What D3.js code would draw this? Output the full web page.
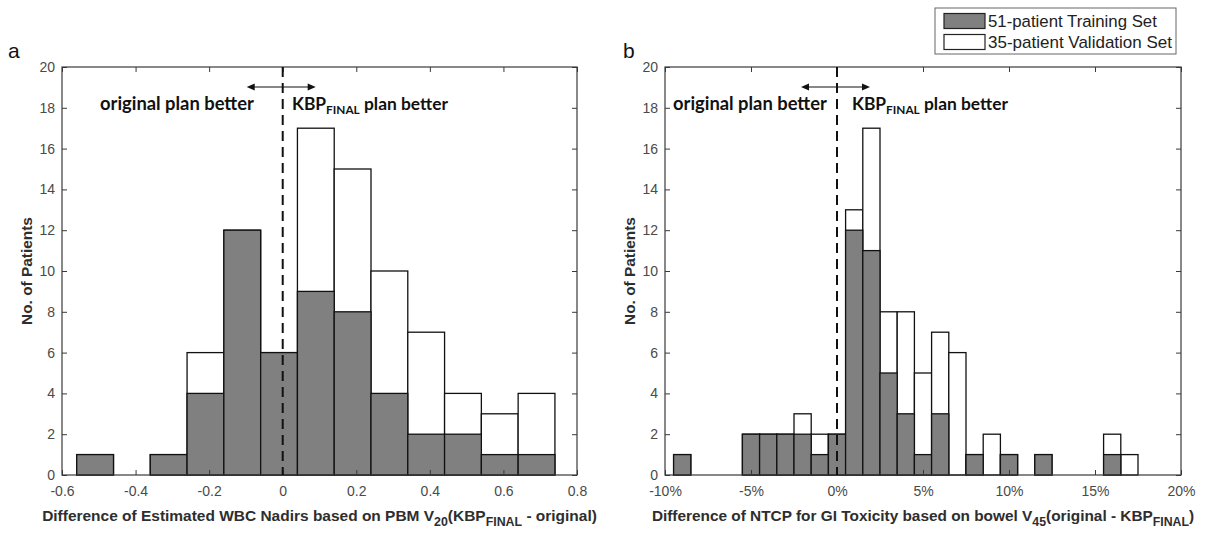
<!DOCTYPE html>
<html>
<head>
<meta charset="utf-8">
<script src="https://cdn.jsdelivr.net/npm/d3@7"></script>
<style>
  html, body { margin: 0; padding: 0; background: #fff; }
  svg { display: block; }
</style>
</head>
<body>
<div id="chart"></div>
<script>
// ---------------- DATA ----------------
// Panel a: bin centres (difference of estimated WBC nadirs), bin width 0.1
const binsA  = [-0.51, -0.41, -0.31, -0.21, -0.11, -0.01, 0.09, 0.19, 0.29, 0.39, 0.49, 0.59, 0.69];
const trainA = [1, 0, 1, 4, 12, 6, 9, 8, 4, 2, 2, 1, 1];
const validA = [0, 0, 0, 2, 0, 0, 8, 7, 6, 5, 2, 2, 3];
const binWidthA = 0.1;
const xTicksA = [-0.6, -0.4, -0.2, 0, 0.2, 0.4, 0.6, 0.8];

// Panel b: bin centres in percent (difference of NTCP), bin width 1%
const binsB  = [-9, -5, -4, -3, -2, -1, 0, 1, 2, 3, 4, 5, 6, 7, 8, 9, 10, 12, 16, 17];
const trainB = [1, 2, 2, 2, 2, 1, 2, 12, 11, 5, 3, 1, 3, 0, 1, 0, 1, 1, 1, 0];
const validB = [0, 0, 0, 0, 1, 1, 0, 1, 6, 3, 5, 4, 4, 6, 0, 2, 0, 0, 1, 1];
const binWidthB = 1;
const xTicksB = [-10, -5, 0, 5, 10, 15, 20];

const yTicks = [0, 2, 4, 6, 8, 10, 12, 14, 16, 18, 20];
const seriesNames = ["51-patient Training Set", "35-patient Validation Set"];
const yLabel = "No. of Patients";

// ---------------- LAYOUT ----------------
const W = 1207, H = 538;
const plotTop = 67, plotBottom = 475;
const GREY = "#808080", FRAME = "#3a3a3a", TICKTXT = "#4a4a4a", TITLE = "#2e2e2e";

const svg = d3.select("#chart").append("svg").attr("width", W).attr("height", H)
  .style("font-family", "'Liberation Sans', Arial, sans-serif");

function fitWidth(sel, target) {
  const l = sel.node().getComputedTextLength();
  const fs = parseFloat(sel.attr("font-size"));
  if (l > 0) sel.attr("font-size", fs * target / l);
}

function drawPanel(cfg) {
  const x = d3.scaleLinear().domain(cfg.domain).range([cfg.left, cfg.right]);
  const y = d3.scaleLinear().domain([0, 20]).range([plotBottom, plotTop]);
  const g = svg.append("g");

  g.append("rect").attr("x", cfg.left).attr("y", plotTop)
    .attr("width", cfg.right - cfg.left).attr("height", plotBottom - plotTop)
    .attr("fill", "#fff");

  const data = cfg.bins.map((c, i) => ({ c, t: cfg.train[i], v: cfg.valid[i] }));
  g.selectAll("rect.tot").data(data.filter(d => d.t + d.v > 0)).join("rect")
    .attr("class", "tot")
    .attr("x", d => x(d.c - cfg.bw / 2))
    .attr("width", d => x(d.c + cfg.bw / 2) - x(d.c - cfg.bw / 2))
    .attr("y", d => y(d.t + d.v))
    .attr("height", d => y(0) - y(d.t + d.v))
    .attr("fill", "#fff").attr("stroke", "#111").attr("stroke-width", 1.3);
  g.selectAll("rect.tr").data(data.filter(d => d.t > 0)).join("rect")
    .attr("class", "tr")
    .attr("x", d => x(d.c - cfg.bw / 2))
    .attr("width", d => x(d.c + cfg.bw / 2) - x(d.c - cfg.bw / 2))
    .attr("y", d => y(d.t))
    .attr("height", d => y(0) - y(d.t))
    .attr("fill", GREY).attr("stroke", "#111").attr("stroke-width", 1.3);

  const axB = g.append("g").attr("transform", `translate(0,${plotBottom})`)
    .call(d3.axisBottom(x).tickValues(cfg.xticks).tickFormat(cfg.fmt)
      .tickSizeInner(-5).tickSizeOuter(0).tickPadding(11));
  const axT = g.append("g").attr("transform", `translate(0,${plotTop})`)
    .call(d3.axisTop(x).tickValues(cfg.xticks).tickFormat("")
      .tickSizeInner(-5).tickSizeOuter(0));
  const axL = g.append("g").attr("transform", `translate(${cfg.left},0)`)
    .call(d3.axisLeft(y).tickValues(yTicks).tickFormat(d3.format("d"))
      .tickSizeInner(-5).tickSizeOuter(0).tickPadding(7));
  const axR = g.append("g").attr("transform", `translate(${cfg.right},0)`)
    .call(d3.axisRight(y).tickValues(yTicks).tickFormat("")
      .tickSizeInner(-5).tickSizeOuter(0));
  [axB, axT, axL, axR].forEach(a => {
    a.select(".domain").remove();
    a.selectAll(".tick line").attr("stroke", FRAME);
    a.selectAll("text").attr("font-size", 14).attr("fill", TICKTXT)
      .style("font-family", "'Liberation Sans', Arial, sans-serif");
  });

  g.append("rect").attr("x", cfg.left).attr("y", plotTop)
    .attr("width", cfg.right - cfg.left).attr("height", plotBottom - plotTop)
    .attr("fill", "none").attr("stroke", FRAME).attr("stroke-width", 1.2);

  g.append("line").attr("x1", x(0)).attr("x2", x(0)).attr("y1", plotTop).attr("y2", plotBottom)
    .attr("stroke", "#111").attr("stroke-width", 2).attr("stroke-dasharray", "10,6");

  const ay = 87;
  const ax0 = x(0);
  g.append("line").attr("x1", ax0 - 30).attr("x2", ax0 + 27).attr("y1", ay).attr("y2", ay)
    .attr("stroke", "#111").attr("stroke-width", 1);
  g.append("path").attr("d", `M${ax0 - 36},${ay} l8,-3.5 l0,7 Z`).attr("fill", "#111");
  g.append("path").attr("d", `M${ax0 + 33},${ay} l-8,-3.5 l0,7 Z`).attr("fill", "#111");

  const ann = "'Lato', 'Open Sans', sans-serif";
  const t1 = g.append("text").attr("x", cfg.annL).attr("y", 110).attr("font-size", 17)
    .attr("font-weight", 700).style("font-family", ann).attr("fill", "#111")
    .text("original plan better");
  fitWidth(t1, 154);
  const t2 = g.append("text").attr("x", cfg.annR).attr("y", 110).attr("font-size", 17)
    .attr("font-weight", 700).style("font-family", ann).attr("fill", "#111");
  t2.append("tspan").text("KBP");
  t2.append("tspan").attr("font-size", "0.68em").attr("dy", "0.3em").text("FINAL");
  t2.append("tspan").attr("dy", "-0.2em").text(" plan better");
  fitWidth(t2, 156);

  const xt = g.append("text").attr("x", (cfg.left + cfg.right) / 2).attr("y", 521)
    .attr("text-anchor", "middle").attr("font-size", 14).attr("font-weight", 700)
    .attr("fill", TITLE);
  cfg.xtitle.forEach(p => {
    const s = xt.append("tspan").text(p.t);
    if (p.sub) s.attr("font-size", "0.8em").attr("dy", "0.4em");
    if (p.up) s.attr("dy", "-0.32em");
  });
  fitWidth(xt, cfg.xtW);

  const yt = g.append("text")
    .attr("transform", `translate(${cfg.left - 30},${(plotTop + plotBottom) / 2}) rotate(-90)`)
    .attr("text-anchor", "middle").attr("font-size", 14).attr("font-weight", 700)
    .attr("fill", TITLE).text(yLabel);
  fitWidth(yt, 108);

  g.append("text").attr("x", cfg.letterX).attr("y", 58).attr("font-size", 21)
    .attr("fill", "#111").text(cfg.letter);
}

drawPanel({
  left: 62, right: 577, domain: [-0.6, 0.8],
  bins: binsA, train: trainA, valid: validA, bw: binWidthA,
  xticks: xTicksA, fmt: d => String(Math.round(d * 10) / 10),
  annL: 100, annR: 292, letter: "a", letterX: 8, xtW: 555,
  xtitle: [
    { t: "Difference of Estimated WBC Nadirs based on PBM V" },
    { t: "20", sub: true }, { t: "(KBP", up: true }, { t: "FINAL", sub: true },
    { t: " - original)", up: true }
  ]
});

drawPanel({
  left: 665, right: 1181, domain: [-10, 20],
  bins: binsB, train: trainB, valid: validB, bw: binWidthB,
  xticks: xTicksB, fmt: d => d + "%",
  annL: 673, annR: 852, letter: "b", letterX: 623, xtW: 543,
  xtitle: [
    { t: "Difference of NTCP for GI Toxicity based on bowel V" },
    { t: "45", sub: true }, { t: "(original - KBP", up: true }, { t: "FINAL", sub: true },
    { t: ")", up: true }
  ]
});

const lg = svg.append("g");
lg.append("rect").attr("x", 935).attr("y", 8).attr("width", 241).attr("height", 46)
  .attr("fill", "#fff").attr("stroke", "#666").attr("stroke-width", 1);
[GREY, "#fff"].forEach((c, i) => {
  lg.append("rect").attr("x", 944).attr("y", 13.5 + i * 21).attr("width", 41).attr("height", 15)
    .attr("fill", c).attr("stroke", "#222").attr("stroke-width", 1.2);
  const t = lg.append("text").attr("x", 988).attr("y", 27 + i * 21).attr("font-size", 16)
    .attr("fill", "#222").text(seriesNames[i]);
  fitWidth(t, i === 0 ? 169 : 184);
});
</script>
</body>
</html>
